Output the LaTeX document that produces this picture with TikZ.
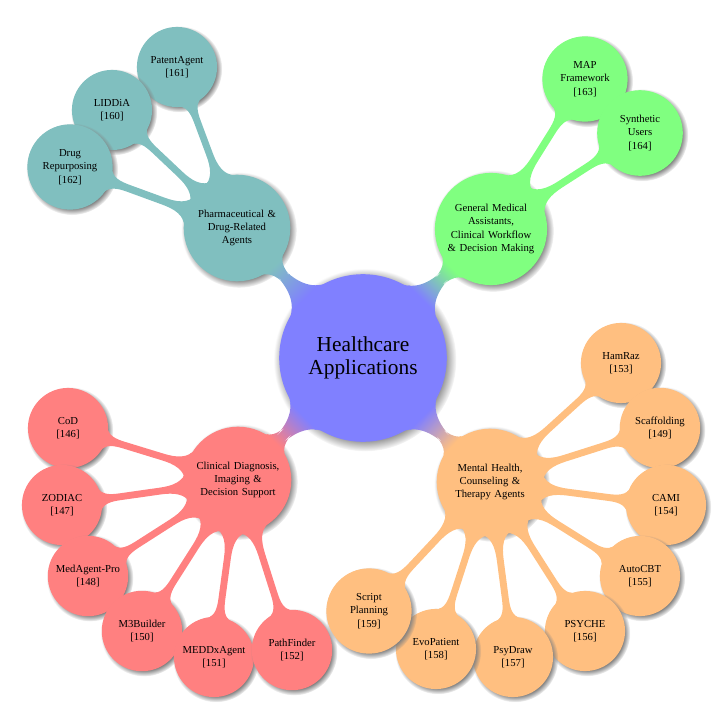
\documentclass[tikz,border=0pt]{standalone}
\usepackage{fontspec}
\setmainfont{Liberation Serif}
\usetikzlibrary{mindmap, shadows}

\begin{document}
\begin{tikzpicture}[
        x=0.026316cm,
        y=-0.026316cm,
        mindmap,
        hub/.style={concept, circular drop shadow, concept color=blue!50, minimum size=4.37cm,
                    text width=3.6cm, font=\fontsize{16}{17}\selectfont},
        branch/.style={concept, circular drop shadow, minimum size=2.74cm,
                    text width=2.5cm, font=\fontsize{8}{10}\selectfont},
        leaf/.style={concept, circular drop shadow, minimum size=2.0cm,
                    text width=1.9cm, font=\fontsize{8}{10}\selectfont},
        pharmabar/.style={circle connection bar switch color=from (teal!50) to (teal!50)},
        generalbar/.style={circle connection bar switch color=from (green!50) to (green!50)},
        clinicalbar/.style={circle connection bar switch color=from (red!50) to (red!50)},
        mentalbar/.style={circle connection bar switch color=from (orange!50) to (orange!50)}
    ]
        \useasboundingbox (0,0) rectangle (722,714);

        % centre
        \node[hub] (health) at (363,358) {Healthcare\\Applications};

        % first level
        \node[branch, concept color=teal!50] (pharma) at (237,228) {Pharmaceutical \&\\Drug-Related\\Agents};
        \node[branch, concept color=green!50] (general) at (491,229) {General Medical\\Assistants,\\Clinical Workflow\\\& Decision Making};
        \node[branch, concept color=red!50] (clinical) at (238,480) {Clinical Diagnosis,\\Imaging \&\\Decision Support};
        \node[branch, concept color=orange!50] (mental) at (490,482) {Mental Health,\\Counseling \&\\Therapy Agents};

        % pharmaceutical
        \node[leaf, concept color=teal!50] (patent) at (177,67) {PatentAgent\\{[161]}};
        \node[leaf, concept color=teal!50] (liddia) at (112,110) {LIDDiA\\{[160]}};
        \node[leaf, concept color=teal!50] (drugrep) at (70,167) {Drug\\Repurposing\\{[162]}};

        % general medical
        \node[leaf, concept color=green!50] (mapfw) at (585,79) {MAP\\Framework\\{[163]}};
        \node[leaf, concept color=green!50] (synth) at (640,133) {Synthetic\\Users\\{[164]}};

        % clinical diagnosis
        \node[leaf, concept color=red!50] (cod) at (68,428) {CoD\\{[146]}};
        \node[leaf, concept color=red!50] (zodiac) at (62,505) {ZODIAC\\{[147]}};
        \node[leaf, concept color=red!50] (medpro) at (88,576) {MedAgent-Pro\\{[148]}};
        \node[leaf, concept color=red!50] (mthree) at (142,631) {M3Builder\\{[150]}};
        \node[leaf, concept color=red!50] (meddx) at (214,657) {MEDDxAgent\\{[151]}};
        \node[leaf, concept color=red!50] (pathf) at (292,650) {PathFinder\\{[152]}};

        % mental health
        \node[leaf, concept color=orange!50] (hamraz) at (621,363) {HamRaz\\{[153]}};
        \node[leaf, concept color=orange!50] (scaff) at (660,428) {Scaffolding\\{[149]}};
        \node[leaf, concept color=orange!50] (cami) at (666,505) {CAMI\\{[154]}};
        \node[leaf, concept color=orange!50] (autocbt) at (640,576) {AutoCBT\\{[155]}};
        \node[leaf, concept color=orange!50] (psyche) at (585,631) {PSYCHE\\{[156]}};
        \node[leaf, concept color=orange!50] (psydraw) at (513,657) {PsyDraw\\{[157]}};
        \node[leaf, concept color=orange!50] (evopat) at (436,649) {EvoPatient\\{[158]}};
        \node[leaf, concept color=orange!50] (script) at (369,611) {Script\\Planning\\{[159]}};

        \path (health) to[circle connection bar switch color=from (blue!50) to (teal!50)] (pharma);
        \path (health) to[circle connection bar switch color=from (blue!50) to (green!50)] (general);
        \path (health) to[circle connection bar switch color=from (blue!50) to (red!50)] (clinical);
        \path (health) to[circle connection bar switch color=from (blue!50) to (orange!50)] (mental);

        \path (pharma) to[pharmabar] (patent);
        \path (pharma) to[pharmabar] (liddia);
        \path (pharma) to[pharmabar] (drugrep);

        \path (general) to[generalbar] (mapfw);
        \path (general) to[generalbar] (synth);

        \path (clinical) to[clinicalbar] (cod);
        \path (clinical) to[clinicalbar] (zodiac);
        \path (clinical) to[clinicalbar] (medpro);
        \path (clinical) to[clinicalbar] (mthree);
        \path (clinical) to[clinicalbar] (meddx);
        \path (clinical) to[clinicalbar] (pathf);

        \path (mental) to[mentalbar] (hamraz);
        \path (mental) to[mentalbar] (scaff);
        \path (mental) to[mentalbar] (cami);
        \path (mental) to[mentalbar] (autocbt);
        \path (mental) to[mentalbar] (psyche);
        \path (mental) to[mentalbar] (psydraw);
        \path (mental) to[mentalbar] (evopat);
        \path (mental) to[mentalbar] (script);
    \end{tikzpicture}
\end{document}
